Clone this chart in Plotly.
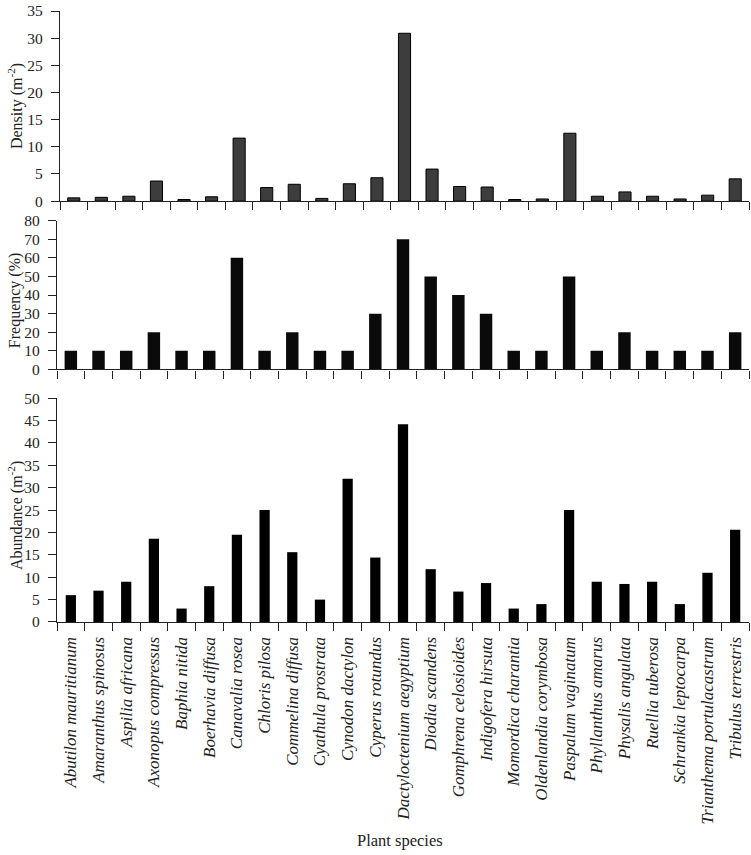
import plotly.graph_objects as go

species = [
    "Abutilon mauritianum", "Amaranthus spinosus", "Aspilia africana", "Axonopus compressus",
    "Baphia nitida", "Boerhavia diffusa", "Canavalia rosea", "Chloris pilosa",
    "Commelina diffusa", "Cyathula prostrata", "Cynodon dactylon", "Cyperus rotundus",
    "Dactyloctenium aegyptium", "Diodia scandens", "Gomphrena celosioides", "Indigofera hirsuta",
    "Momordica charantia", "Oldenlandia corymbosa", "Paspalum vaginatum", "Phyllanthus amarus",
    "Physalis angulata", "Ruellia tuberosa", "Schrankia leptocarpa", "Trianthema portulacastrum",
    "Tribulus terrestris",
]
density = [0.6, 0.7, 0.9, 3.7, 0.3, 0.8, 11.6, 2.5, 3.1, 0.5, 3.2, 4.3, 30.9,
           5.9, 2.7, 2.6, 0.3, 0.4, 12.5, 0.9, 1.7, 0.9, 0.4, 1.1, 4.1]
frequency = [10, 10, 10, 20, 10, 10, 60, 10, 20, 10, 10, 30, 70,
             50, 40, 30, 10, 10, 50, 10, 20, 10, 10, 10, 20]
abundance = [6, 7, 9, 18.6, 3, 8, 19.5, 25, 15.6, 5, 32, 14.4, 44.2,
             11.8, 6.8, 8.7, 3, 4, 25, 9, 8.5, 9, 4, 11, 20.6]

y_titles = ["Density (m<sup>-2</sup>)", "Frequency (%)", "Abundance (m<sup>-2</sup>)"]
x_title = "Plant species"

FONT = "Liberation Serif"
AX = "#222222"
W, H = 751, 855
ML, MR, MT, MB = 57, 2, 5, 233
PW = W - ML - MR
PH = H - MT - MB


def py(pix):
    return (H - MB - pix) / PH


def px(pix):
    return (pix - ML) / PW


doms = [[py(197), 1.0], [py(367), py(216.7)], [0.0, py(396)]]
xdoms = [[px(60), 1.0], [0.0, 1.0], [0.0, 1.0]]
title_centers = [101, 297, 515]
yranges = [[0, 35], [0, 80], [0, 50]]
dticks = [5, 10, 5]

fig = go.Figure()
fig.add_trace(go.Bar(x=species, y=density, xaxis="x", yaxis="y", width=0.44,
                     marker=dict(color="#3d3d3d", line=dict(color="#000", width=1))))
fig.add_trace(go.Bar(x=species, y=frequency, xaxis="x2", yaxis="y2", width=0.45,
                     marker=dict(color="#0a0a0a", line=dict(width=0))))
fig.add_trace(go.Bar(x=species, y=abundance, xaxis="x3", yaxis="y3", width=0.37,
                     marker=dict(color="#000000", line=dict(width=0))))

n = len(species)
bounds = [i - 0.5 for i in range(n + 1)]
layout = dict(
    width=W, height=H, showlegend=False,
    margin=dict(l=ML, r=MR, t=MT, b=MB),
    plot_bgcolor="white", paper_bgcolor="white",
    font=dict(family=FONT, size=15, color=AX),
)
for i in range(3):
    k = "" if i == 0 else str(i + 1)
    xk, yk = "x" + k, "y" + k
    layout["xaxis" + k] = dict(
        domain=xdoms[i], anchor=yk, type="category", categoryarray=species,
        categoryorder="array", range=[-0.5, n - 0.5],
        showline=True, linecolor=AX, linewidth=1.2, ticks="outside", ticklen=8,
        tickcolor=AX, tickwidth=1.2, tickson="boundaries",
        showticklabels=(i == 2), tickangle=-90, ticklabelstandoff=7,
        tickfont=dict(family=FONT, size=17, style="italic", color=AX),
        showgrid=False, zeroline=False, fixedrange=True,
    )
    layout["yaxis" + k] = dict(
        domain=doms[i], anchor=xk, range=yranges[i], dtick=dticks[i], tick0=0,
        showline=True, linecolor=AX, linewidth=1.2, ticks="outside", ticklen=8,
        tickcolor=AX, tickwidth=1.2, showgrid=False, zeroline=False,
        ticklabelstandoff=5,
        tickfont=dict(family=FONT, size=15.5, color=AX), fixedrange=True,
    )
    # overlay axes for crossing ticks
    ox, oy = "xaxis" + str(i + 4), "yaxis" + str(i + 4)
    layout[ox] = dict(
        domain=xdoms[i], anchor=yk, overlaying=xk, range=[-0.5, n - 0.5],
        tickmode="array", tickvals=bounds, ticks="inside", ticklen=8,
        tickcolor=AX, tickwidth=1.2, showticklabels=False, showline=False,
        showgrid=False, zeroline=False, side="bottom", fixedrange=True,
    )
    layout[oy] = dict(
        domain=doms[i], anchor=xk, overlaying=yk, range=yranges[i], dtick=dticks[i],
        tick0=0, ticks="inside", ticklen=8, tickcolor=AX, tickwidth=1.2,
        showticklabels=False, showline=False, showgrid=False, zeroline=False,
        side="left", fixedrange=True,
    )

annotations = []
for i in range(3):
    annotations.append(dict(
        text=y_titles[i], xref="paper", yref="paper", x=px(15),
        y=py(title_centers[i]), textangle=-90, showarrow=False,
        xanchor="center", yanchor="middle", font=dict(family=FONT, size=16, color=AX),
    ))
annotations.append(dict(
    text=x_title, xref="paper", yref="paper", x=px(400), y=py(843),
    showarrow=False, xanchor="center", yanchor="middle",
    font=dict(family=FONT, size=16.5, color=AX),
))
layout["annotations"] = annotations
fig.update_layout(**layout)
fig.write_html("out.html")
